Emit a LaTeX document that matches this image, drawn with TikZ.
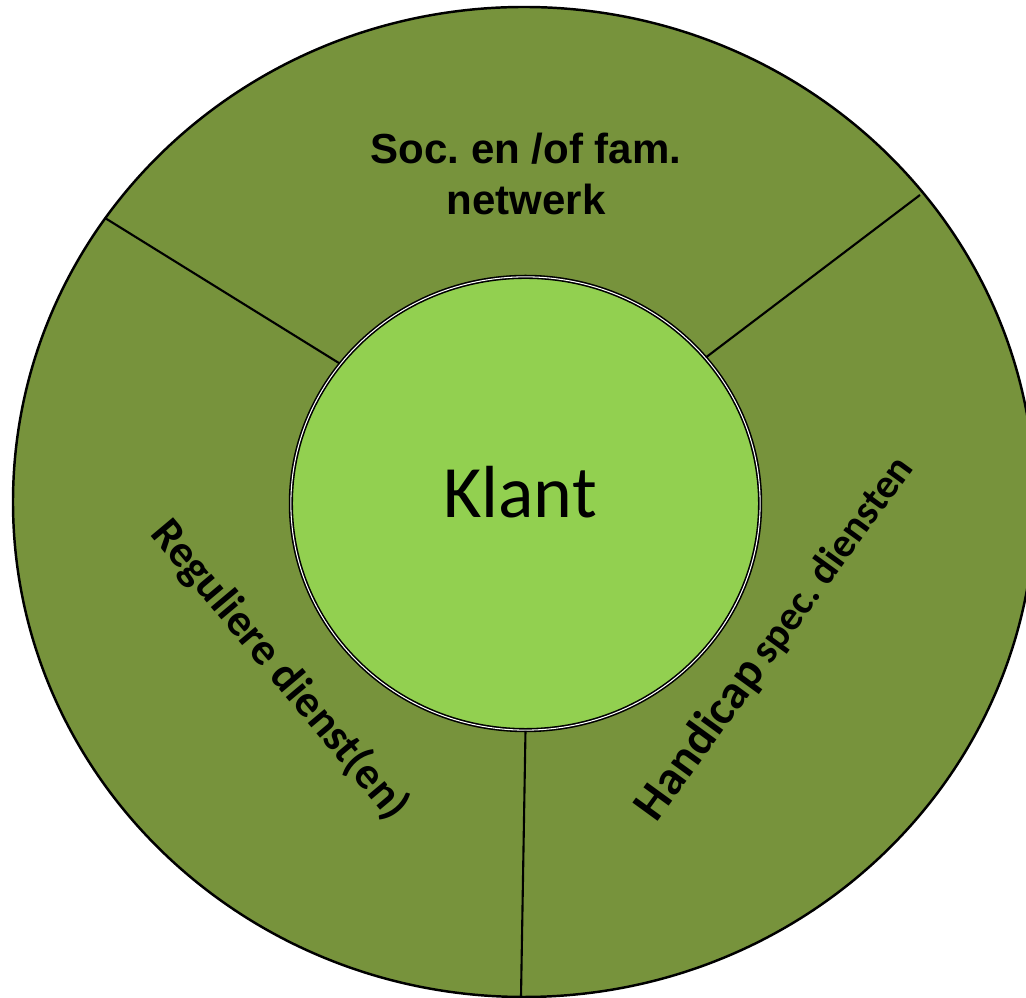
\documentclass[tikz,border=0pt]{standalone}
\usepackage{fontspec}
\setmainfont{Carlito}
\newfontfamily\arialfont{Liberation Sans}
\usetikzlibrary{shapes.geometric}
\definecolor{ringgreen}{HTML}{77933C}
\definecolor{coregreen}{HTML}{92D050}
\frenchspacing

\begin{document}
\begin{tikzpicture}[x=0.01cm, y=-0.01cm,
        divider/.style={line width=0.6pt},
        ringlabel/.style={font=\bfseries\fontsize{12.8}{15}\selectfont}]
        \useasboundingbox (0,0) rectangle (1026,998);
        \clip (0,0) rectangle (1026,998);

        % outer ring
        \draw[fill=ringgreen, line width=0.7pt] (524,502) ellipse [x radius=511, y radius=495];

        % client in the middle
        \node[ellipse, draw, double, double distance=0.3pt, line width=0.45pt, fill=coregreen,
              minimum width=4.69cm, minimum height=4.53cm, inner sep=0pt] (klant) at (525.5,503.5) {};
        \node[font=\fontsize{21}{25}\selectfont] (klanttekst) at (520,492) {Klant};

        \coordinate (linksboven) at (105,218);
        \coordinate (rechtsboven) at (920,195);
        \coordinate (onder) at (521,997);
        \draw[divider] (klant.143) -- (linksboven);
        \draw[divider] (klant.39.5) -- (rechtsboven);
        \draw[divider] (klant.south) -- (onder);

        \node[font=\arialfont\bfseries\fontsize{11.95}{14.5}\selectfont, align=center] (netwerk) at (526,174) {Soc. en /of fam.\\netwerk};
        \node[ringlabel, rotate=-50] (regulier) at (280,670) {Reguliere dienst(en)};
        \node[font=\bfseries, rotate=54] (handicap) at (775,638) {{\fontsize{13.65}{16}\selectfont Handicap} {\fontsize{11.7}{14}\selectfont spec. diensten}};
    \end{tikzpicture}
\end{document}
